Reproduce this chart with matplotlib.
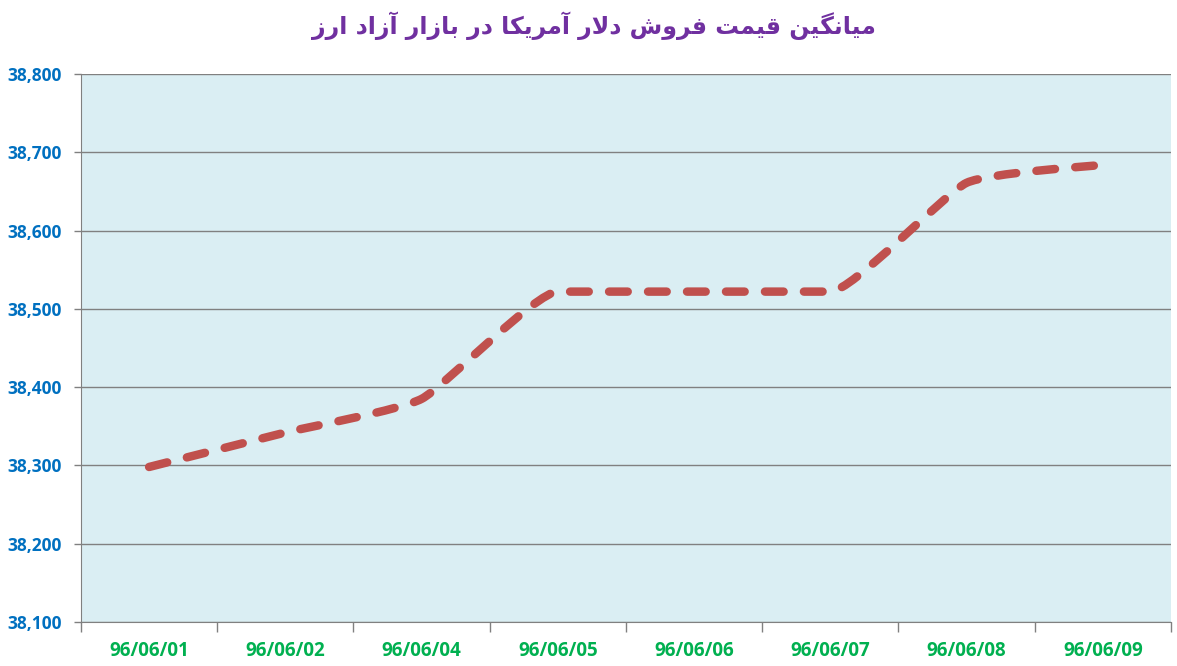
import matplotlib
matplotlib.use('Agg')
import matplotlib.pyplot as plt
from matplotlib.path import Path
from matplotlib.patches import PathPatch
from matplotlib.ticker import FuncFormatter

# Data
dates = ['96/06/01', '96/06/02', '96/06/04', '96/06/05',
         '96/06/06', '96/06/07', '96/06/08', '96/06/09']
prices = [38298, 38342, 38385, 38522, 38522, 38522, 38661, 38684]
title = 'میانگین قیمت فروش دلار آمریکا در بازار آزاد ارز'

# Simple Persian shaping (matplotlib has no complex text layout)
forms = {
    'م': 'ﻡﻢﻣﻤ', 'ی': 'ﯼﯽﯾﯿ', 'ن': 'ﻥﻦﻧﻨ', 'گ': 'ﮒﮓﮔﮕ',
    'ق': 'ﻕﻖﻗﻘ', 'ت': 'ﺕﺖﺗﺘ', 'ف': 'ﻑﻒﻓﻔ', 'ش': 'ﺵﺶﺷﺸ',
    'ل': 'ﻝﻞﻟﻠ', 'ب': 'ﺏﺐﺑﺒ', 'ک': 'ﮎﮏﮐﮑ',
    'ا': 'ﺍﺎ', 'آ': 'ﺁﺂ', 'ر': 'ﺭﺮ', 'و': 'ﻭﻮ', 'د': 'ﺩﺪ', 'ز': 'ﺯﺰ',
}


def dual(c):
    return c in forms and len(forms[c]) == 4


def shape(text):
    out = []
    i = 0
    n = len(text)
    while i < n:
        c = text[i]
        if c not in forms:
            out.append(c)
            i += 1
            continue
        prev_join = i > 0 and dual(text[i - 1])
        if c == 'ل' and i + 1 < n and text[i + 1] in 'اآ':
            lig = {'ا': ('ﻻ', 'ﻼ'), 'آ': ('ﻵ', 'ﻶ')}[text[i + 1]]
            out.append(lig[1] if prev_join else lig[0])
            i += 2
            continue
        next_join = dual(c) and i + 1 < n and text[i + 1] in forms
        f = forms[c]
        if prev_join and next_join:
            out.append(f[3])
        elif prev_join:
            out.append(f[1])
        elif next_join:
            out.append(f[2])
        else:
            out.append(f[0])
        i += 1
    return ''.join(out)[::-1]


fig = plt.figure(figsize=(11.77, 6.66), dpi=100)
ax = fig.add_axes([0.0688, 0.0661, 0.9261, 0.8228])
ax.set_facecolor('#DAEEF3')

# Lightly smoothed line: Bezier through the points, flat where a segment is flat
x = list(range(len(prices)))
pts = list(zip(x, prices))
k = 0.08
tangents = []
for i in range(len(pts)):
    a = pts[max(i - 1, 0)]
    b = pts[min(i + 1, len(pts) - 1)]
    dx = (b[0] - a[0]) * k
    dy = (b[1] - a[1]) * k
    if 0 < i < len(pts) - 1 and (pts[i][1] == a[1] or pts[i][1] == b[1]):
        dy = 0
    tangents.append((dx, dy))
verts = [pts[0]]
codes = [Path.MOVETO]
for i in range(len(pts) - 1):
    p1, p2 = pts[i], pts[i + 1]
    t1, t2 = tangents[i], tangents[i + 1]
    verts += [(p1[0] + t1[0], p1[1] + t1[1]), (p2[0] - t2[0], p2[1] - t2[1]), p2]
    codes += [Path.CURVE4] * 3
patch = PathPatch(Path(verts, codes), fill=False, edgecolor='#C0504D',
                  linewidth=6.1, linestyle=(0, (2.2, 2.4)),
                  capstyle='round', joinstyle='round', zorder=3)
ax.add_patch(patch)

ax.set_xlim(-0.5, len(dates) - 0.5)
ax.set_ylim(38100, 38800)
ax.set_yticks(range(38100, 38801, 100))
ax.yaxis.set_major_formatter(FuncFormatter(lambda v, p: f'{int(v):,}'))
ax.grid(axis='y', color='#808080', linewidth=1)
ax.set_axisbelow(True)

ax.set_xticks(x)
ax.set_xticklabels(dates)
ax.set_xticks([v - 0.5 for v in range(len(dates) + 1)], minor=True)
ax.tick_params(axis='x', which='major', length=0, pad=14)
ax.tick_params(axis='x', which='minor', length=7, color='#808080', width=1)
ax.tick_params(axis='y', length=5, color='#808080', width=1, pad=9)

for s in ['top', 'right']:
    ax.spines[s].set_visible(False)
for s in ['left', 'bottom']:
    ax.spines[s].set_color('#808080')

for lab in ax.get_yticklabels():
    lab.set_color('#0070C0')
    lab.set_fontweight('bold')
    lab.set_fontsize(12.5)
    lab.set_family('Open Sans')
for lab in ax.get_xticklabels():
    lab.set_color('#00B050')
    lab.set_fontweight('bold')
    lab.set_fontsize(13.5)
    lab.set_family('Open Sans')

fig.text(0.505, 0.961, shape(title), ha='center', va='center',
         fontsize=17, fontweight='bold', color='#7030A0',
         family=['DejaVu Sans'])

fig.savefig('out.png', dpi=100)
